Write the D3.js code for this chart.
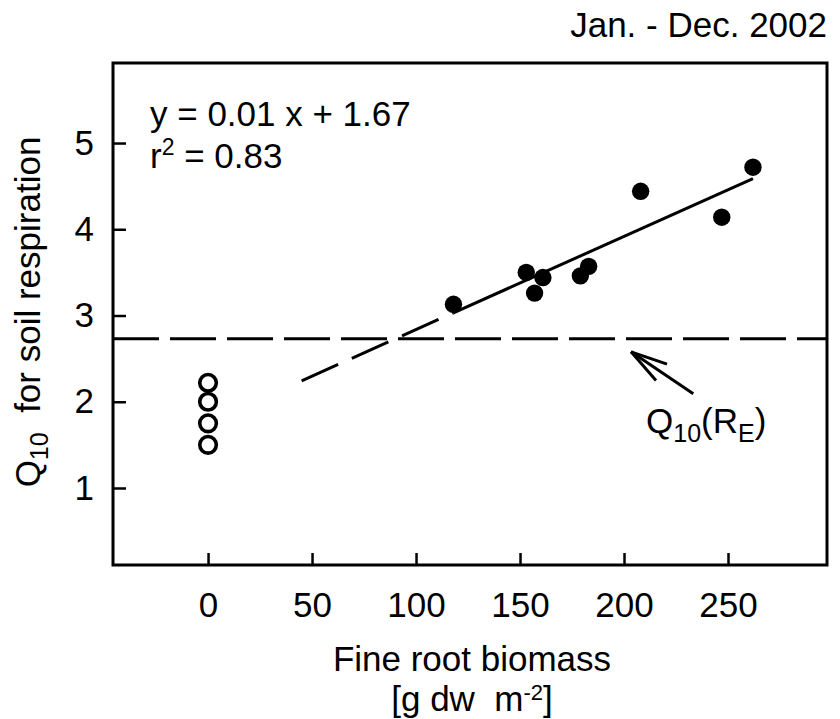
<!DOCTYPE html>
<html>
<head>
<meta charset="utf-8">
<script src="https://cdn.jsdelivr.net/npm/d3@7"></script>
<style>
  html, body { margin: 0; padding: 0; background: #fff; }
  svg { display: block; font-family: "Liberation Sans", Arial, sans-serif; }
</style>
</head>
<body>
<svg id="chart" width="840" height="719"></svg>
<script>
// ---- data ----
const xTicks = [0, 50, 100, 150, 200, 250];
const yTicks = [1, 2, 3, 4, 5];
const rootBiomass = [118, 153, 161, 157, 179, 183, 208, 247, 262];
const q10Soil = [3.13, 3.50, 3.44, 3.26, 3.46, 3.57, 4.44, 4.14, 4.72];
const noRootBiomass = [0, 0, 0, 0];
const noRootQ10 = [2.22, 2.0, 1.75, 1.5];
const fitSlope = 0.0108;
const fitIntercept = 1.757;
const fitSolidRange = [118, 262];
const fitDashedRange = [45, 118];
const q10RE = 2.73;
const xDomain = [-45.7, 297.6];
const yDomain = [0.107, 5.928];

// ---- layout ----
const L = 113, R = 827, T = 63, B = 565;
const FS = 35;

const svg = d3.select("#chart");
svg.append("rect").attr("width", 840).attr("height", 719).attr("fill", "#fff");

const x = d3.scaleLinear().domain(xDomain).range([L, R]);
const y = d3.scaleLinear().domain(yDomain).range([B, T]);

// axes
const gx = svg.append("g")
  .attr("transform", `translate(0,${B})`)
  .call(d3.axisBottom(x).tickValues(xTicks).tickFormat(d3.format("d")).tickSize(-12).tickPadding(27));
gx.select(".domain").remove();
gx.attr("font-size", FS).attr("font-family", null);
gx.selectAll(".tick line").attr("stroke", "#000").attr("stroke-width", 2.5);
gx.selectAll(".tick text").attr("fill", "#000");

const gy = svg.append("g")
  .attr("transform", `translate(${L},0)`)
  .call(d3.axisLeft(y).tickValues(yTicks).tickFormat(d3.format("d")).tickSize(-13).tickPadding(19));
gy.select(".domain").remove();
gy.attr("font-size", FS).attr("font-family", null);
gy.selectAll(".tick line").attr("stroke", "#000").attr("stroke-width", 2.5);
gy.selectAll(".tick text").attr("fill", "#000");

// frame
svg.append("rect")
  .attr("x", L).attr("y", T).attr("width", R - L).attr("height", B - T)
  .attr("fill", "none").attr("stroke", "#000").attr("stroke-width", 3);

// Q10(RE) horizontal dashed line
svg.append("line")
  .attr("x1", x(xDomain[0])).attr("x2", x(xDomain[1]))
  .attr("y1", y(q10RE)).attr("y2", y(q10RE))
  .attr("stroke", "#000").attr("stroke-width", 3)
  .attr("stroke-dasharray", "46,11");

// regression line
const fit = v => fitIntercept + fitSlope * v;
svg.append("line")
  .attr("x1", x(fitSolidRange[0])).attr("y1", y(fit(fitSolidRange[0])))
  .attr("x2", x(fitSolidRange[1])).attr("y2", y(fit(fitSolidRange[1])))
  .attr("stroke", "#000").attr("stroke-width", 3);
svg.append("line")
  .attr("x1", x(fitDashedRange[0])).attr("y1", y(fit(fitDashedRange[0])))
  .attr("x2", x(fitDashedRange[1])).attr("y2", y(fit(fitDashedRange[1])))
  .attr("stroke", "#000").attr("stroke-width", 3)
  .attr("stroke-dasharray", "40,15");

// filled points
svg.append("g").selectAll("circle")
  .data(rootBiomass.map((v, i) => [v, q10Soil[i]]))
  .join("circle")
  .attr("cx", d => x(d[0])).attr("cy", d => y(d[1]))
  .attr("r", 8.7).attr("fill", "#000");

// open points
svg.append("g").selectAll("circle")
  .data(noRootBiomass.map((v, i) => [v, noRootQ10[i]]))
  .join("circle")
  .attr("cx", d => x(d[0])).attr("cy", d => y(d[1]))
  .attr("r", 8.3).attr("fill", "none")
  .attr("stroke", "#000").attr("stroke-width", 3.6);

// arrow annotation
const tip = [x(203.4), y(q10RE) + 13];
const tail = [x(233.3), y(q10RE) + 55];
const ang = Math.atan2(tail[1] - tip[1], tail[0] - tip[0]);
const wing = 38, spread = 15 * Math.PI / 180;
const arrow = svg.append("g").attr("stroke", "#000").attr("stroke-width", 3).attr("fill", "none");
arrow.append("line").attr("x1", tip[0]).attr("y1", tip[1]).attr("x2", tail[0]).attr("y2", tail[1]);
arrow.append("line").attr("x1", tip[0]).attr("y1", tip[1])
  .attr("x2", tip[0] + wing * Math.cos(ang - spread)).attr("y2", tip[1] + wing * Math.sin(ang - spread));
arrow.append("line").attr("x1", tip[0]).attr("y1", tip[1])
  .attr("x2", tip[0] + wing * Math.cos(ang + spread)).attr("y2", tip[1] + wing * Math.sin(ang + spread));

const reLabel = svg.append("text").attr("x", 646).attr("y", 433).attr("font-size", FS).attr("fill", "#000");
reLabel.append("tspan").text("Q");
reLabel.append("tspan").attr("font-size", 25).attr("dy", 9).text("10");
reLabel.append("tspan").attr("dy", -9).text("(R");
reLabel.append("tspan").attr("font-size", 25).attr("dy", 9).text("E");
reLabel.append("tspan").attr("dy", -9).text(")");

// equation
svg.append("text").attr("x", 150).attr("y", 126).attr("font-size", FS).attr("fill", "#000")
  .text("y = 0.01 x + 1.67");
const r2 = svg.append("text").attr("x", 150).attr("y", 168).attr("font-size", FS).attr("fill", "#000");
r2.append("tspan").text("r");
r2.append("tspan").attr("font-size", 23).attr("dy", -13).text("2");
r2.append("tspan").attr("dy", 13).text(" = 0.83");

// title
svg.append("text").attr("x", 827).attr("y", 37).attr("text-anchor", "end")
  .attr("font-size", FS).attr("fill", "#000").text("Jan. - Dec. 2002");

// x axis title
svg.append("text").attr("x", 472).attr("y", 671).attr("text-anchor", "middle")
  .attr("font-size", FS).attr("fill", "#000").text("Fine root biomass");
const unit = svg.append("text").attr("x", 472).attr("y", 711).attr("text-anchor", "middle")
  .attr("font-size", FS).attr("fill", "#000");
unit.append("tspan").text("[g dw\u00a0\u00a0m");
unit.append("tspan").attr("font-size", 22).attr("dy", -11).text("-2");
unit.append("tspan").attr("dy", 11).text("]");

// y axis title
const yl = svg.append("text").attr("transform", "translate(40,312) rotate(-90)")
  .attr("text-anchor", "middle").attr("font-size", FS).attr("fill", "#000");
yl.append("tspan").text("Q");
yl.append("tspan").attr("font-size", 25).attr("dy", 8).text("10");
yl.append("tspan").attr("dy", -8).text("\u00a0\u00a0for soil respiration");
</script>
</body>
</html>
